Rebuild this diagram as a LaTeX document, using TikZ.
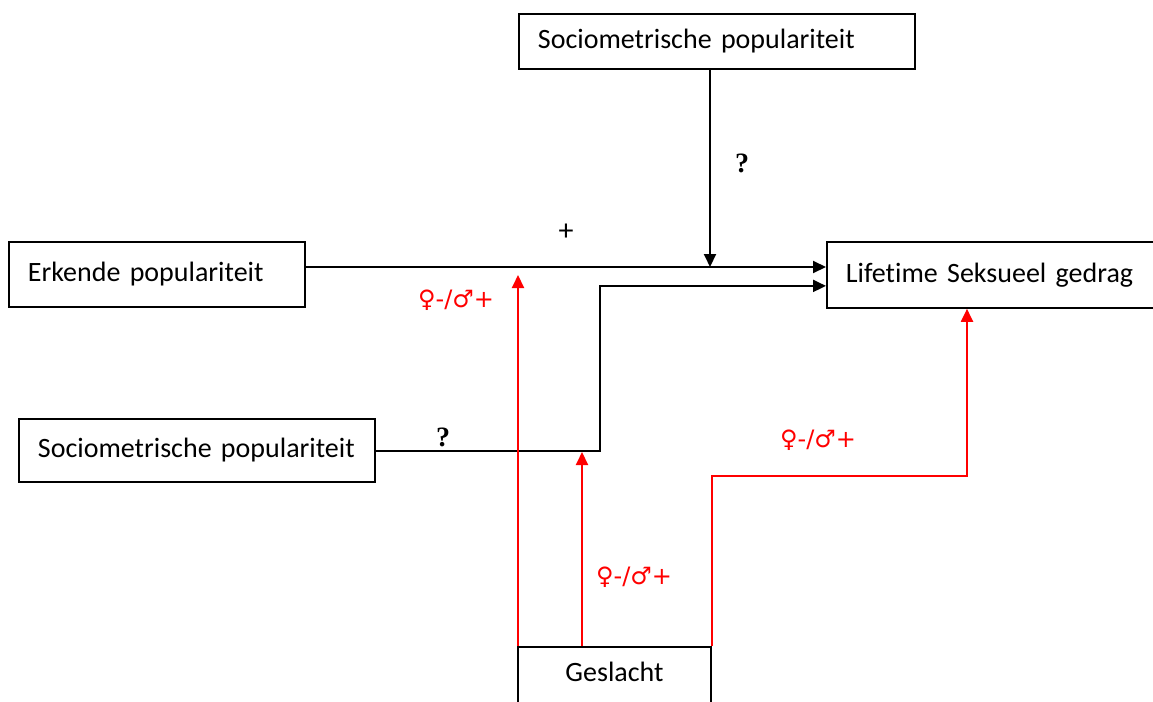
\documentclass[tikz,border=0pt]{standalone}
\usepackage{fontspec}
\setmainfont{Carlito}[Ligatures=NoCommon]
\newfontfamily\symfont{DejaVu Sans}
\newfontfamily\qfont{Liberation Serif}
\usetikzlibrary{arrows.meta}
\newcommand\boxfont{\fontsize{28}{32}\selectfont\spaceskip 4pt\relax}

\begin{document}
\begin{tikzpicture}[x=1pt, y=-1pt, >={Triangle[length=13pt,width=12pt]},
  box/.style={draw, line width=1.8pt, anchor=north west, align=left, inner xsep=19pt, font=\boxfont},
  link/.style={line width=2pt},
  sex/.style={text=red, font=\symfont\fontsize{24}{28}\selectfont},
  qmark/.style={font=\qfont\bfseries\fontsize{28}{30}\selectfont}]
        \useasboundingbox (0,0) rectangle (1153,701);
        \node[box, text width=358pt, minimum height=55pt] (topsoc) at (518,13) {Sociometrische populariteit};
        \node[box, text width=258pt, minimum height=65pt] (erkend) at (8,241) {Erkende populariteit};
        \node[box, text width=322pt, minimum height=66pt] (lifetime) at (826,241) {Lifetime Seksueel gedrag};
        \node[box, text width=318pt, minimum height=63pt] (leftsoc) at (18,418) {Sociometrische populariteit};
        \node[box, anchor=north, align=center, minimum width=193pt, inner ysep=8pt, text height=27pt, text depth=50pt] (geslacht) at (614.5,646) {Geslacht};
        \coordinate (mid) at (710,267);
        \coordinate (knee) at (600,451);
        \coordinate (hit1) at (518,275);
        \coordinate (hit2) at (582,452);
        \coordinate (turn) at (967,476);
        \draw[link, ->] (erkend.east |- mid) -- (lifetime.west |- mid);
        \draw[link, ->] (mid |- topsoc.south) -- (mid);
        \draw[link, ->] (leftsoc.east |- knee) -- (knee) |- ([yshift=-11pt]lifetime.west);
        \draw[link, red, ->] (geslacht.north west -| hit1) -- (hit1);
        \draw[link, red, ->] (geslacht.north west -| hit2) -- (hit2);
        \draw[link, red, ->] (geslacht.north east) |- (turn) -- (turn |- lifetime.south);
        \node[qmark] (q1) at (742,163) {?};
        \node[qmark] (q2) at (443,437) {?};
        \node[font=\fontsize{30}{32}\selectfont] (plus) at (566,232) {+};
        \node[sex] (s1) at (456,300) {♀-/♂+};
        \node[sex] (s2) at (634,577) {♀-/♂+};
        \node[sex] (s3) at (818,440) {♀-/♂+};
\end{tikzpicture}
\end{document}
